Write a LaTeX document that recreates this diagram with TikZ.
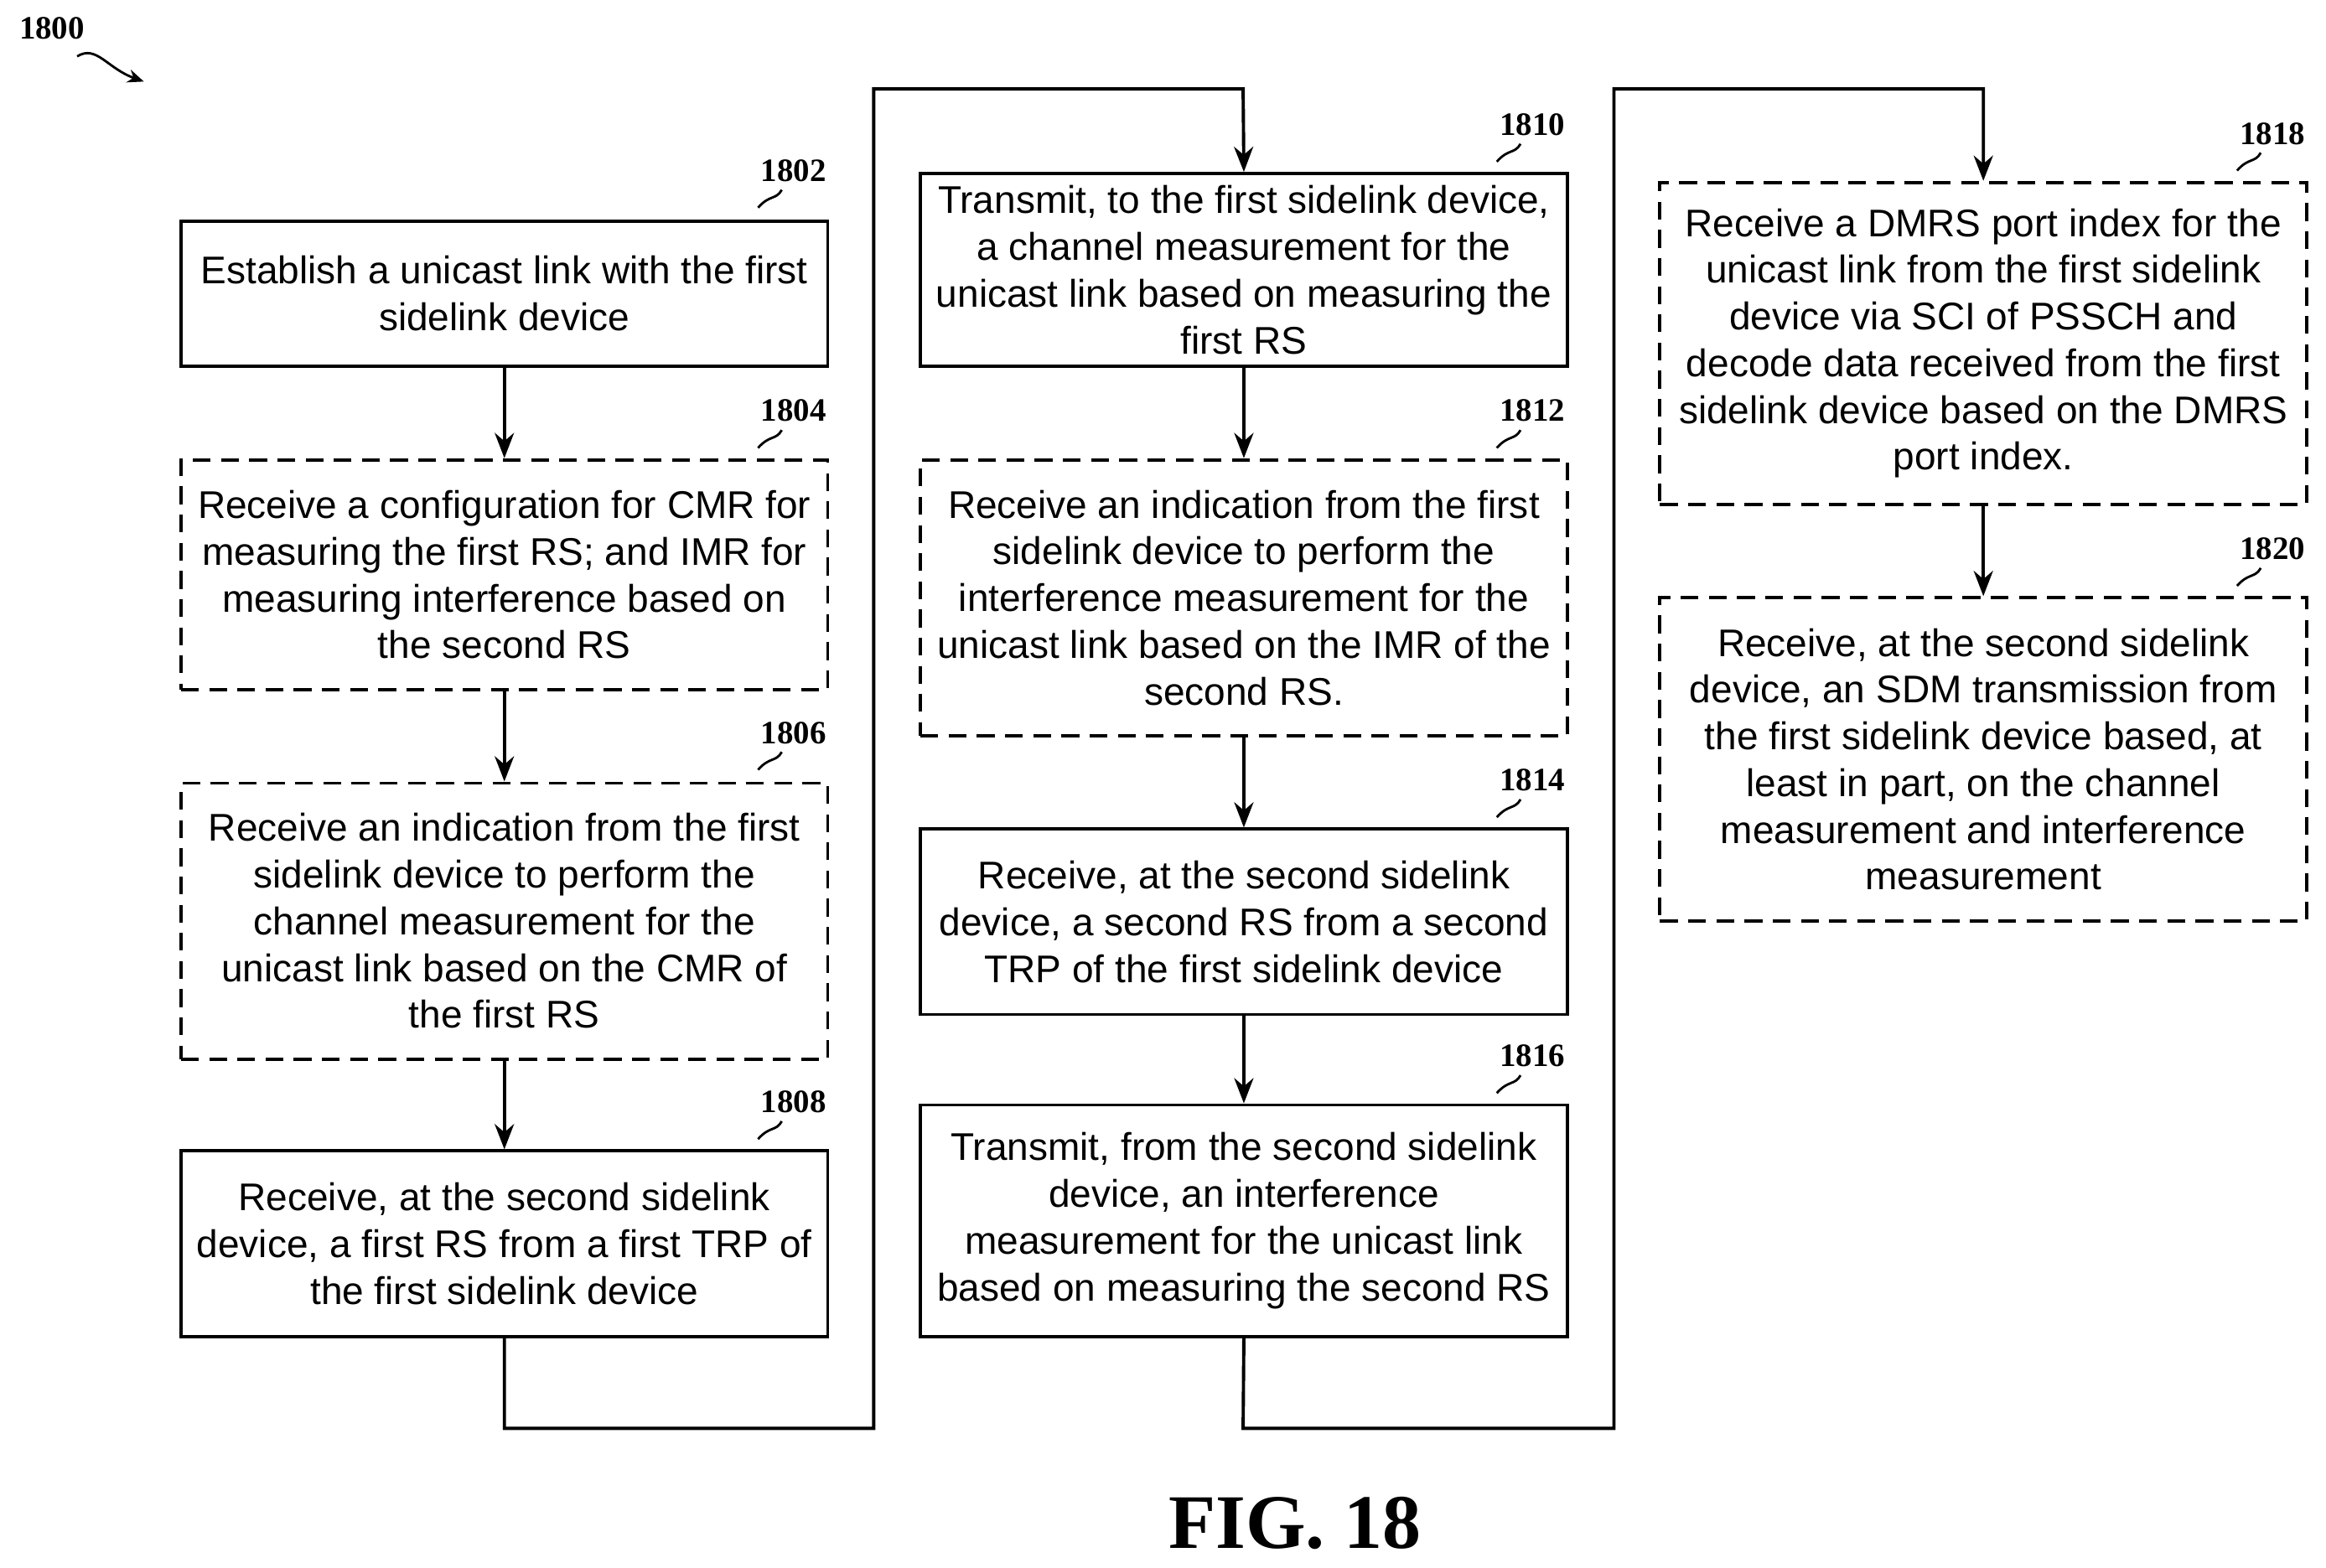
\documentclass[tikz,border=0pt]{standalone}
\usepackage{fontspec}
\usetikzlibrary{arrows.meta}
\setmainfont{Liberation Sans}
\newfontfamily\serifb{Liberation Serif}
\begin{document}
\begin{tikzpicture}[x=1pt,y=-1pt,
 box/.style={draw,line width=2.2pt,minimum width=436pt,align=center,inner sep=0pt,text width=430pt},
 dbox/.style={box,dash pattern=on 12pt off 7pt},
 arr/.style={line width=2.2pt,-{Stealth[length=17pt,width=13pt]}},
 num/.style={font=\serifb\bfseries\fontsize{22}{24}\selectfont},
 tick/.style={line width=1.6pt}]
\useasboundingbox (0,0) rectangle (1568,1057);
\newcommand\bx[6]{\node[#1,minimum height=#5-#4] (#6) at ({(#2+#3)/2},{(#4+#5)/2}) {};}
\bx{box}{122}{558}{149}{247}{b1802}
\bx{dbox}{122}{558}{310}{465}{b1804}
\bx{dbox}{122}{558}{528}{714}{b1806}
\bx{box}{122}{558}{776}{901}{b1808}
\bx{box}{620}{1057}{117}{247}{b1810}
\bx{dbox}{620}{1057}{310}{496}{b1812}
\bx{box}{620}{1057}{559}{684}{b1814}
\bx{box}{620}{1057}{745}{901}{b1816}
\bx{dbox}{1118}{1556}{123}{340}{b1818}
\bx{dbox}{1118}{1556}{403}{621}{b1820}
\tikzset{t/.style={font=\fontsize{26}{31.5}\selectfont,align=center}}
\node[t] at (b1802) {Establish a unicast link with the first\\sidelink device};
\node[t] at (b1804) {Receive a configuration for CMR for\\measuring the first RS; and IMR for\\measuring interference based on\\the second RS};
\node[t] at (b1806) {Receive an indication from the first\\sidelink device to perform the\\channel measurement for the\\unicast link based on the CMR of\\the first RS};
\node[t] at (b1808) {Receive, at the second sidelink\\device, a first RS from a first TRP of\\the first sidelink device};
\node[t] at (b1810) {Transmit, to the first sidelink device,\\a channel measurement for the\\unicast link based on measuring the\\first RS};
\node[t] at (b1812) {Receive an indication from the first\\sidelink device to perform the\\interference measurement for the\\unicast link based on the IMR of the\\second RS.};
\node[t] at (b1814) {Receive, at the second sidelink\\device, a second RS from a second\\TRP of the first sidelink device};
\node[t] at (b1816) {Transmit, from the second sidelink\\device, an interference\\measurement for the unicast link\\based on measuring the second RS};
\node[t] at (b1818) {Receive a DMRS port index for the\\unicast link from the first sidelink\\device via SCI of PSSCH and\\decode data received from the first\\sidelink device based on the DMRS\\port index.};
\node[t] at (b1820) {Receive, at the second sidelink\\device, an SDM transmission from\\the first sidelink device based, at\\least in part, on the channel\\measurement and interference\\measurement};
\draw[arr] (b1802) -- (b1804);
\draw[arr] (b1804) -- (b1806);
\draw[arr] (b1806) -- (b1808);
\draw[arr] (b1810) -- (b1812);
\draw[arr] (b1812) -- (b1814);
\draw[arr] (b1814) -- (b1816);
\draw[arr] (b1818) -- (b1820);
\draw[arr] (b1808.south) -- (340,963) -- (589,963) -- (589,60) -- (838,60) -- (b1810.north);
\draw[arr] (b1816.south) -- (838,963) -- (1088,963) -- (1088,60) -- (1337,60) -- (b1818.north);
\newcommand\lab[4]{\node[num] (#4) at (#1,#2) {#3};
 \draw[tick] (#1-8,#2+13) .. controls (#1-12,#2+20) and (#1-16,#2+16) .. (#1-24,#2+25);}
\lab{535}{115}{1802}{n1802}
\lab{535}{277}{1804}{n1804}
\lab{535}{494}{1806}{n1806}
\lab{535}{743}{1808}{n1808}
\lab{1033}{84}{1810}{n1810}
\lab{1033}{277}{1812}{n1812}
\lab{1033}{526}{1814}{n1814}
\lab{1033}{712}{1816}{n1816}
\lab{1532}{90}{1818}{n1818}
\lab{1532}{370}{1820}{n1820}
\node[num] (n1800) at (35,19) {1800};
\coordinate (p1800) at (97,55);
\draw[line width=1.6pt,-{Stealth[length=11pt,width=9pt]}] (52,38) .. controls (65,30) and (72,46) .. (p1800);
\node[font=\serifb\bfseries\fontsize{52}{56}\selectfont] (fig) at (873,1027) {FIG. 18};
\end{tikzpicture}
\end{document}
